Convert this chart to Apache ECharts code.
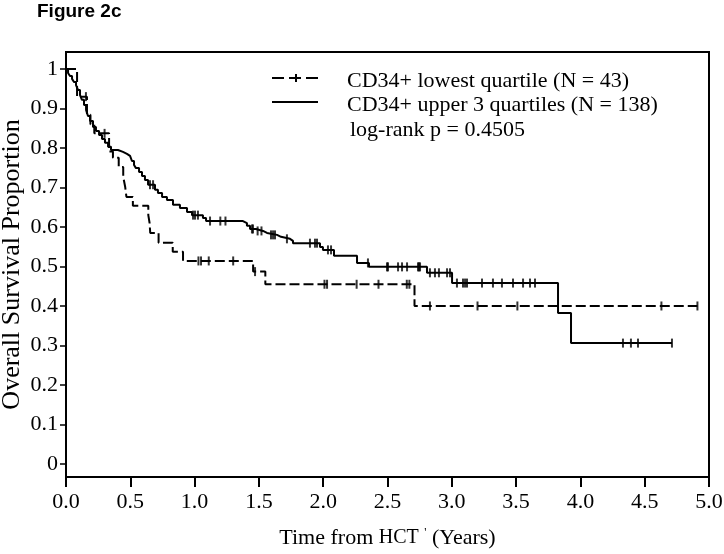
<!DOCTYPE html>
<html>
<head>
<meta charset="utf-8">
<script src="https://cdn.jsdelivr.net/npm/echarts@6/dist/echarts.min.js"></script>
<style>
html,body{margin:0;padding:0;background:#fff;}
#c{width:724px;height:554px;}
</style>
</head>
<body>
<div id="c"></div>
<script>
// ---- Data ----
// Lowest quartile (dashed): event times and survival after each event
const lowTimes = [0, 0.086, 0.163, 0.19, 0.22, 0.335, 0.365, 0.41, 0.445, 0.46, 0.47, 0.52, 0.64, 0.65, 0.655, 0.72, 0.83, 0.91, 1.455, 1.55, 2.71];
const lowSurv  = [1.0, 0.930, 0.884, 0.860, 0.837, 0.791, 0.775, 0.752, 0.727, 0.702, 0.676, 0.654, 0.630, 0.610, 0.585, 0.560, 0.537, 0.514, 0.487, 0.455, 0.400];
const lowCensor = [0.155, 0.30, 1.03, 1.05, 1.11, 1.30, 1.47, 2.01, 2.03, 2.26, 2.43, 2.65, 2.67, 2.83, 3.20, 3.51, 4.63, 4.91];
const lowEnd = 4.91;

// Upper 3 quartiles (solid)
const upTimes = [0, 0.016, 0.031, 0.047, 0.062, 0.078, 0.093, 0.109, 0.124, 0.140, 0.156, 0.171, 0.187, 0.210, 0.233, 0.257, 0.280, 0.303, 0.327, 0.350, 0.404, 0.443, 0.474, 0.498, 0.513, 0.529, 0.544, 0.568, 0.591, 0.614, 0.638, 0.692, 0.715, 0.747, 0.785, 0.832, 0.886, 0.941, 0.980, 1.065, 1.089, 1.376, 1.407, 1.431, 1.477, 1.532, 1.563, 1.641, 1.672, 1.742, 1.765, 1.975, 1.998, 2.084, 2.263, 2.356, 2.807, 3.002, 3.826, 3.927];
const upSurv  = [1.0, 0.990, 0.982, 0.975, 0.967, 0.959, 0.947, 0.934, 0.922, 0.909, 0.896, 0.881, 0.868, 0.853, 0.843, 0.833, 0.823, 0.813, 0.803, 0.795, 0.790, 0.785, 0.780, 0.775, 0.767, 0.757, 0.749, 0.739, 0.729, 0.719, 0.707, 0.694, 0.686, 0.676, 0.668, 0.656, 0.648, 0.638, 0.630, 0.623, 0.615, 0.610, 0.603, 0.595, 0.590, 0.585, 0.580, 0.575, 0.570, 0.565, 0.559, 0.549, 0.542, 0.527, 0.509, 0.499, 0.484, 0.458, 0.382, 0.306];
const upCensor = [0.653, 0.677, 0.988, 1.003, 1.026, 1.12, 1.20, 1.24, 1.446, 1.454, 1.49, 1.52, 1.594, 1.61, 1.625, 1.718, 1.897, 1.936, 1.952, 2.037, 2.061, 2.348, 2.496, 2.504, 2.582, 2.613, 2.652, 2.737, 2.745, 2.753, 2.830, 2.869, 2.900, 2.963, 2.986, 3.040, 3.087, 3.103, 3.118, 3.235, 3.320, 3.390, 3.476, 3.554, 3.608, 3.647, 4.331, 4.393, 4.448, 4.712];
const upEnd = 4.712;

const xTicks = [0, 0.5, 1, 1.5, 2, 2.5, 3, 3.5, 4, 4.5, 5];
const yTicks = [0, 0.1, 0.2, 0.3, 0.4, 0.5, 0.6, 0.7, 0.8, 0.9, 1];

const seriesNames = ['CD34+ lowest quartile (N = 43)', 'CD34+ upper 3 quartiles (N = 138)'];
const pText = 'log-rank p = 0.4505';

// ---- Helpers ----
function stepAt(ts, ss, t) {
  let v = ss[0];
  for (let i = 0; i < ts.length; i++) { if (ts[i] <= t) v = ss[i]; }
  return v;
}
function curve(ts, ss, end) {
  const d = ts.map((t, i) => [t, ss[i]]);
  d.push([end, ss[ss.length - 1]]);
  return d;
}
function censors(ts, ss, cs) {
  return cs.map(t => [t, stepAt(ts, ss, t)]);
}

const serif = "'Liberation Serif', 'Times New Roman', 'DejaVu Serif', serif";

const chart = echarts.init(document.getElementById('c'), null, {renderer: 'canvas'});
chart.setOption({
  backgroundColor: '#fff',
  animation: false,
  grid: {left: 66, right: 15, top: 52, bottom: 77, containLabel: false, outerBoundsMode: 'none',
    show: true, borderColor: '#000', borderWidth: 2, backgroundColor: 'transparent'},
  xAxis: {
    type: 'value', min: 0, max: 5, interval: 0.5,
    axisLine: {show: true, onZero: false, lineStyle: {color: '#000', width: 2}},
    axisTick: {show: true, length: 10, customValues: xTicks, lineStyle: {color: '#000', width: 2}},
    axisLabel: {color: '#000', fontFamily: serif, fontSize: 22, margin: 14, customValues: xTicks,
      formatter: v => v.toFixed(1)},
    splitLine: {show: false},
    name: 'Time from {h|HCT} {s|\'} (Years)',
    nameLocation: 'middle', nameGap: 50, nameMoveOverlap: false,
    nameTextStyle: {color: '#000', fontFamily: serif, fontSize: 22,
      rich: {h: {fontFamily: serif, fontSize: 20, color: '#000'}, s: {fontSize: 12, color: '#000', verticalAlign: 'top', padding: [0,0,10,0]}}}
  },
  yAxis: {
    type: 'value', min: -0.033, max: 1.043,
    axisLine: {show: true, onZero: false, lineStyle: {color: '#000', width: 2}},
    axisTick: {show: true, length: 6, customValues: yTicks, lineStyle: {color: '#000', width: 1.5}},
    axisLabel: {color: '#000', fontFamily: serif, fontSize: 22, margin: 8, customValues: yTicks,
      formatter: v => (Math.abs(v) < 1e-9 ? '0' : (Math.abs(v - 1) < 1e-9 ? '1' : v.toFixed(1)))},
    splitLine: {show: false},
    name: 'Overall Survival Proportion',
    nameLocation: 'middle', nameGap: 41, nameRotate: 90, nameMoveOverlap: false,
    nameTextStyle: {color: '#000', fontFamily: serif, fontSize: 26}
  },
  title: {
    text: 'Figure 2c', left: 37, top: 2, padding: 0,
    textStyle: {fontFamily: "'Liberation Sans', Arial, sans-serif", fontWeight: 'bold', fontSize: 19, color: '#000'}
  },
  series: [
    {
      name: seriesNames[0], type: 'line', step: 'end', showSymbol: false, silent: true,
      data: curve(lowTimes, lowSurv, lowEnd),
      lineStyle: {color: '#000', width: 2, type: [10, 4]}
    },
    {
      name: seriesNames[1], type: 'line', step: 'end', showSymbol: false, silent: true,
      data: curve(upTimes, upSurv, upEnd),
      lineStyle: {color: '#000', width: 2, type: 'solid'}
    },
    {
      type: 'scatter', silent: true, symbol: 'rect', symbolSize: [2, 9],
      itemStyle: {color: '#000'},
      data: censors(lowTimes, lowSurv, lowCensor)
    },
    {
      type: 'scatter', silent: true, symbol: 'rect', symbolSize: [2, 9],
      itemStyle: {color: '#000'},
      data: censors(upTimes, upSurv, upCensor)
    }
  ],
  graphic: [
    {type: 'line', shape: {x1: 272, y1: 78, x2: 318, y2: 78}, style: {stroke: '#000', lineWidth: 2, lineDash: [12, 5]}},
    {type: 'line', shape: {x1: 296, y1: 74, x2: 296, y2: 82}, style: {stroke: '#000', lineWidth: 2}},
    {type: 'line', shape: {x1: 272, y1: 102, x2: 318, y2: 102}, style: {stroke: '#000', lineWidth: 2}},
    {type: 'text', x: 347, y: 81, style: {text: seriesNames[0], font: '22px ' + serif, fill: '#000', verticalAlign: 'middle'}},
    {type: 'text', x: 347, y: 105, style: {text: seriesNames[1], font: '22px ' + serif, fill: '#000', verticalAlign: 'middle'}},
    {type: 'text', x: 350, y: 130, style: {text: pText, font: '22px ' + serif, fill: '#000', verticalAlign: 'middle'}}
  ]
});
</script>
</body>
</html>
